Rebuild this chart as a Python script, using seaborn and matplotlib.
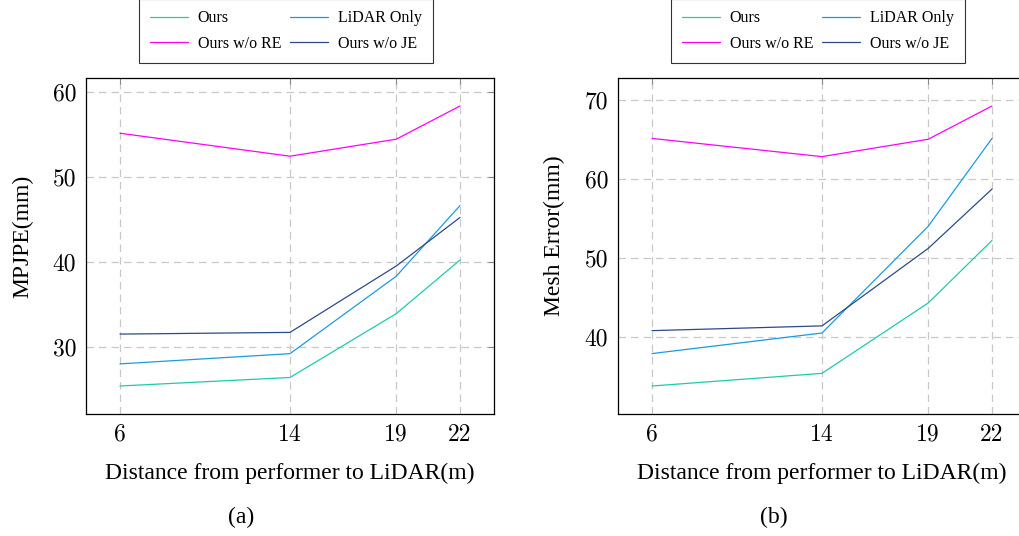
import numpy as np
import pandas as pd
import matplotlib
matplotlib.use('Agg')
import matplotlib.pyplot as plt
import seaborn as sns

# distances (m) and errors
distance = [6, 14, 19, 22]
methods = ['Ours', 'LiDAR Only', 'Ours w/o RE', 'Ours w/o JE']

mpjpe_ours = [25.4, 26.4, 33.9, 40.2]
mpjpe_lidar = [28.0, 29.2, 38.3, 46.6]
mpjpe_wo_re = [55.1, 52.4, 54.4, 58.3]
mpjpe_wo_je = [31.5, 31.7, 39.5, 45.2]

mesh_ours = [33.8, 35.4, 44.3, 52.2]
mesh_lidar = [37.9, 40.5, 54.0, 65.1]
mesh_wo_re = [65.1, 62.8, 65.0, 69.2]
mesh_wo_je = [40.8, 41.4, 51.2, 58.7]

colors = ['#1ecbae', '#1a9be0', '#ff00ff', '#2c4a8a']

sns.set_theme(style='white')
plt.rcParams['font.family'] = ['Liberation Serif', 'DejaVu Serif']
plt.rcParams['text.color'] = 'black'
plt.rcParams['axes.labelcolor'] = 'black'
plt.rcParams['xtick.labelcolor'] = 'black'
plt.rcParams['ytick.labelcolor'] = 'black'


def long_df(series):
    rows = []
    for name, vals in zip(methods, series):
        for d, v in zip(distance, vals):
            rows.append({'distance': d, 'error': v, 'method': name})
    return pd.DataFrame(rows)


panels = [
    (long_df([mpjpe_ours, mpjpe_lidar, mpjpe_wo_re, mpjpe_wo_je]), 'MPJPE(mm)', [30, 40, 50, 60], '(a)'),
    (long_df([mesh_ours, mesh_lidar, mesh_wo_re, mesh_wo_je]), 'Mesh Error(mm)', [40, 50, 60, 70], '(b)'),
]

fig = plt.figure(figsize=(10.2, 5.36), dpi=100)
ax_pos = [[86 / 1020, 122 / 536, 408 / 1020, 336 / 536],
          [618 / 1020, 122 / 536, 408 / 1020, 336 / 536]]
cap_x = [241 / 1020, 774 / 1020]

for i, (df, ylab, yticks, cap) in enumerate(panels):
    ax = fig.add_axes(ax_pos[i])
    sns.lineplot(data=df, x='distance', y='error', hue='method', hue_order=methods,
                 palette=colors, lw=0.9, ax=ax, legend=False)

    # pgfplots style: 10% enlarged limits
    xr = max(distance) - min(distance)
    ax.set_xlim(min(distance) - 0.1 * xr, max(distance) + 0.1 * xr)
    lo, hi = df['error'].min(), df['error'].max()
    ax.set_ylim(lo - 0.1 * (hi - lo), hi + 0.1 * (hi - lo))

    ax.set_xticks(distance)
    ax.set_yticks(yticks)
    ax.tick_params(direction='in', length=4, width=0.8, color='#888888',
                   top=True, right=True, pad=7,
                   labelfontfamily='cmr10', labelsize=17)

    ax.grid(True, color='#c8c8c8', lw=0.9, linestyle=(0, (6, 4)))
    for s in ax.spines.values():
        s.set_color('black')
        s.set_linewidth(0.9)

    ax.set_xlabel('Distance from performer to LiDAR(m)', fontsize=17)
    ax.set_ylabel(ylab, fontsize=17)
    ax.xaxis.set_label_coords(0.5, -0.145)
    ax.yaxis.set_label_coords(-0.13, 0.53)

    handles = ax.get_lines()[:4]
    order = [0, 2, 1, 3]
    leg = ax.legend([handles[k] for k in order], [methods[k] for k in order],
                    loc='lower center', bbox_to_anchor=(0.49, 1.045), ncol=2,
                    borderaxespad=0, fontsize=11.5, frameon=True, fancybox=False,
                    handlelength=2.4, columnspacing=0.55, handletextpad=0.6,
                    borderpad=0.7, labelspacing=0.6)
    leg.get_frame().set_edgecolor('black')
    leg.get_frame().set_linewidth(0.8)

    fig.text(cap_x[i], 1 - 517 / 536, cap, ha='center', va='center', fontsize=17)

fig.savefig('out.png', dpi=100)
